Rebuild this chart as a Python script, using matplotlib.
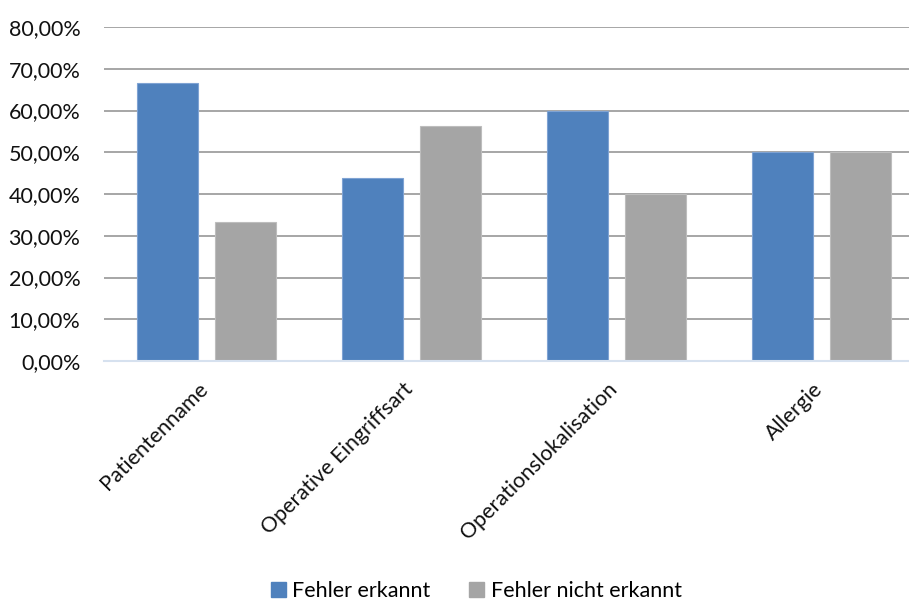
import matplotlib.pyplot as plt
import numpy as np
from matplotlib.ticker import FuncFormatter
from matplotlib.patches import Patch

plt.rcParams['font.family'] = ['Lato', 'DejaVu Sans']

categories = ["Patientenname", "Operative Eingriffsart", "Operationslokalisation", "Allergie"]
erkannt = [66.67, 43.75, 60.0, 50.0]
nicht_erkannt = [33.33, 56.25, 40.0, 50.0]

blue = "#4F81BD"
gray = "#A5A5A5"

fig = plt.figure(figsize=(9.09, 6.01), dpi=100)
ax = fig.add_axes([104 / 909, 1 - 361 / 601, 805 / 909, (361 - 27) / 601])

x = np.arange(len(categories))
w = 0.30
off = 0.19
ax.bar(x - off, erkannt, w, color=blue, edgecolor="#7FA3D3", linewidth=0.8, zorder=3)
ax.bar(x + off, nicht_erkannt, w, color=gray, edgecolor="#BDBDBD", linewidth=0.8, zorder=3)

ax.set_xlim(-0.5, -0.5 + 805 / 205)
ax.set_ylim(0, 80)
ax.set_yticks(np.arange(0, 81, 10))
ax.yaxis.set_major_formatter(FuncFormatter(lambda v, p: f"{v:.2f}".replace(".", ",") + "%"))
ax.grid(axis="y", color="#A6A6A6", linewidth=1.4, zorder=0)
for s in ["top", "right", "left"]:
    ax.spines[s].set_visible(False)
ax.spines["bottom"].set_color("#D6E1EF")
ax.spines["bottom"].set_linewidth(1.5)
ax.spines["bottom"].set_zorder(4)
ax.tick_params(axis="y", length=0, pad=17, labelsize=15.5, labelcolor="#111111")
ax.tick_params(axis="x", length=0, pad=13)

ax.set_xticks(x - 0.045)
ax.set_xticklabels(categories, rotation=45, ha="right", va="top",
                   rotation_mode="anchor", fontsize=15.5, color="#111111")

handles = [Patch(facecolor=blue, edgecolor=blue), Patch(facecolor=gray, edgecolor=gray)]
fig.legend(handles, ["Fehler erkannt", "Fehler nicht erkannt"], loc="lower center",
           bbox_to_anchor=(0.524, -0.032), ncol=2, frameon=False, fontsize=15.5,
           handlelength=0.7, handleheight=0.7, handletextpad=0.3, columnspacing=1.8)

fig.savefig("out.png", dpi=100)
